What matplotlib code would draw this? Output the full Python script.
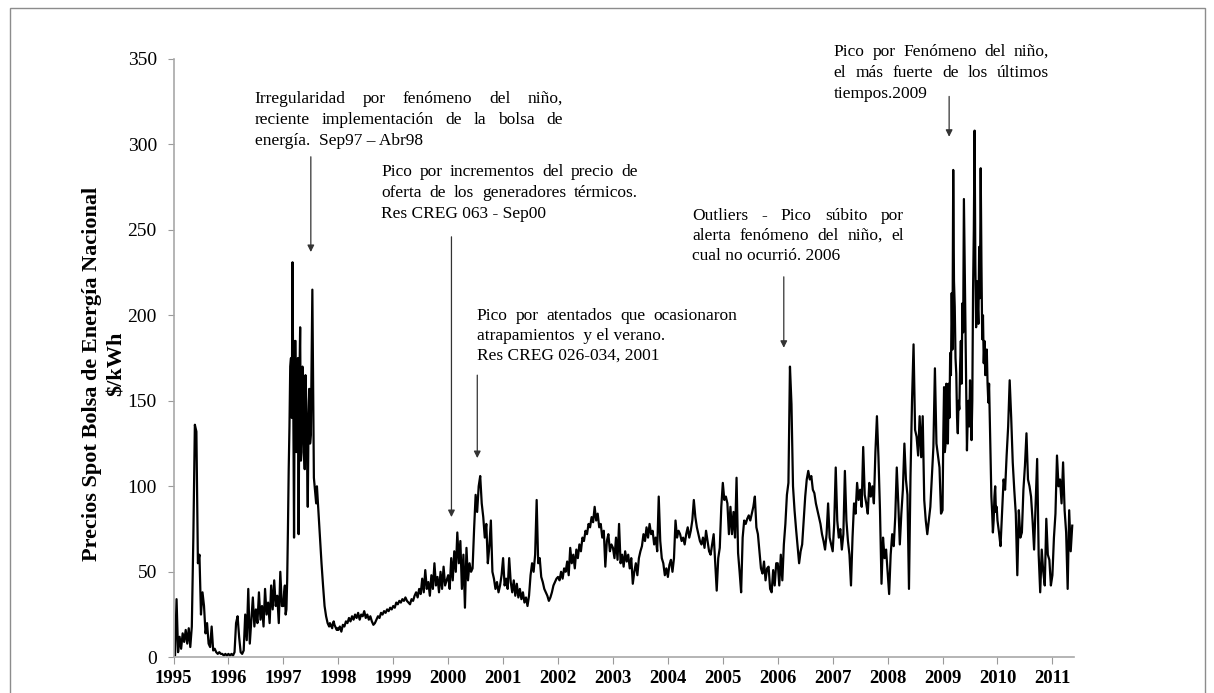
import numpy as np
import matplotlib
matplotlib.use('Agg')
import matplotlib.pyplot as plt
from matplotlib.patches import Rectangle

plt.rcParams['font.family'] = ['Liberation Serif', 'DejaVu Serif']

# Precio spot bolsa ($/kWh); 36 lecturas por año
# (72 en los años mas volatiles)
p1995 = [2, 1, 34, 3, 12, 5, 14, 9, 16, 8, 17, 6, 18, 70, 136, 132, 55, 60,
         25, 38, 30, 14, 20, 8, 6, 18, 4, 5, 3, 2, 3, 2, 2, 1, 2, 1]
p1996 = [2, 1, 2, 1, 3, 20, 24, 12, 3, 2, 4, 25, 10, 40, 8, 22, 35, 18,
         28, 20, 38, 22, 30, 18, 40, 25, 32, 20, 42, 28, 45, 30, 36, 20, 50, 30]
p1997 = [30, 38, 42, 25, 28, 45, 75, 110, 135, 170, 175, 140, 231, 150, 70, 185, 185, 120,
         150, 175, 72, 160, 193, 115, 120, 170, 155, 125, 110, 165, 150, 118, 88, 140, 157, 125,
         130, 175, 215, 160, 105, 100, 95, 90, 100, 92, 85, 78, 70, 62, 55, 48, 42, 36,
         30, 27, 24, 22, 20, 19, 18, 20, 19, 18, 17, 20, 21, 19, 18, 17, 16, 17]
p1998 = [16, 18, 15, 19, 18, 21, 20, 23, 21, 24, 22, 25, 23, 26, 22, 25, 24, 27,
         23, 25, 22, 24, 21, 19, 20, 22, 24, 23, 26, 25, 27, 26, 28, 27, 29, 28]
p1999 = [30, 29, 32, 31, 33, 32, 34, 33, 35, 33, 32, 31, 34, 33, 36, 38, 35, 40,
         37, 46, 38, 51, 40, 44, 36, 48, 40, 55, 42, 47, 38, 50, 40, 53, 42, 45]
p2000 = [48, 40, 58, 45, 62, 50, 73, 55, 68, 40, 60, 29, 64, 45, 55, 50, 52, 75,
         95, 85, 100, 106, 90, 82, 70, 78, 55, 65, 80, 50, 46, 40, 44, 38, 42, 48]
p2001 = [58, 42, 46, 40, 58, 44, 38, 45, 36, 43, 35, 40, 34, 38, 32, 35, 30, 36,
         48, 55, 50, 60, 92, 55, 58, 47, 44, 40, 38, 36, 33, 35, 38, 42, 44, 46]
p2002 = [47, 45, 50, 46, 52, 50, 56, 48, 64, 55, 60, 52, 63, 58, 66, 62, 70, 68,
         74, 72, 78, 76, 82, 79, 88, 80, 84, 76, 78, 70, 74, 53, 68, 72, 62, 66]
p2003 = [64, 58, 70, 57, 78, 55, 60, 53, 62, 56, 60, 52, 58, 43, 50, 55, 48, 58,
         62, 65, 72, 68, 76, 70, 78, 72, 74, 66, 70, 62, 94, 68, 58, 55, 48, 52]
p2004 = [47, 54, 57, 50, 58, 80, 70, 74, 72, 68, 70, 66, 72, 76, 70, 74, 80, 92,
         82, 76, 72, 68, 66, 70, 64, 74, 68, 62, 60, 66, 72, 56, 39, 58, 64, 88]
p2005 = [102, 92, 94, 90, 72, 88, 72, 85, 70, 105, 61, 50, 38, 70, 80, 78, 81, 83,
         80, 84, 88, 94, 76, 72, 62, 52, 49, 56, 45, 52, 53, 40, 38, 51, 42, 55]
p2006 = [55, 42, 60, 45, 66, 78, 95, 102, 170, 148, 100, 86, 75, 65, 55, 62, 66, 80,
         94, 104, 109, 104, 106, 98, 96, 90, 86, 82, 78, 72, 68, 63, 72, 90, 70, 66]
p2007 = [62, 78, 111, 80, 70, 75, 63, 72, 109, 80, 68, 60, 42, 70, 90, 84, 102, 92,
         98, 88, 123, 95, 90, 84, 102, 94, 100, 90, 120, 141, 117, 86, 43, 70, 58, 63]
p2008 = [50, 37, 60, 72, 65, 82, 111, 90, 66, 84, 98, 125, 104, 95, 40, 106, 150, 183,
         133, 129, 118, 141, 117, 141, 92, 80, 72, 80, 88, 105, 123, 169, 125, 118, 111, 84]
p2009 = [86, 130, 158, 120, 125, 160, 150, 125, 160, 140, 178, 165, 213, 180, 285, 220, 205, 175,
         166, 140, 131, 150, 145, 170, 185, 160, 207, 190, 268, 230, 197, 150, 121, 140, 150, 135,
         162, 140, 127, 150, 215, 250, 308, 230, 193, 220, 207, 195, 240, 210, 286, 230, 186, 200,
         172, 185, 165, 175, 180, 160, 149, 160, 139, 120, 94, 85, 73, 80, 94, 100, 85, 88]
p2010 = [80, 73, 65, 85, 104, 98, 118, 135, 162, 140, 114, 98, 84, 48, 86, 70, 73, 98,
         112, 131, 104, 100, 94, 80, 63, 90, 116, 60, 38, 63, 50, 42, 81, 60, 57, 42]
# 2011 solo hasta mayo, a 36 lecturas por año
p2011 = [48, 70, 84, 118, 100, 104, 90, 114, 86, 73, 40, 86, 62, 77]

years = list(range(1995, 2012))
year_values = [p1995, p1996, p1997, p1998, p1999, p2000, p2001, p2002, p2003,
               p2004, p2005, p2006, p2007, p2008, p2009, p2010, p2011]

t_parts = []
for yr, v in zip(years, year_values):
    n = 36 if yr == 2011 else len(v)
    t_parts.append(yr + np.arange(len(v)) / n)
t = np.concatenate(t_parts)
price = np.concatenate([np.array(v, dtype=float) for v in year_values])

notes = [
    ["Irregularidad por fenómeno del niño,",
     "reciente implementación de la bolsa de",
     "energía.  Sep97 – Abr98"],
    ["Pico por incrementos del precio de",
     "oferta de los generadores térmicos.",
     "Res CREG 063 - Sep00"],
    ["Pico por atentados que ocasionaron",
     "atrapamientos  y el verano.",
     "Res CREG 026-034, 2001"],
    ["Outliers  -  Pico súbito por",
     "alerta fenómeno del niño, el",
     "cual no ocurrió. 2006"],
    ["Pico por Fenómeno del niño,",
     "el más fuerte de los últimos",
     "tiempos.2009"],
]

fig = plt.figure(figsize=(12.14, 6.93), dpi=100)
ax = fig.add_axes([173.5 / 1214, 35.7 / 693, 900 / 1214, 598.5 / 693])

ax.plot(t, price, color='black', lw=1.6)

ax.set_xlim(1995, 2011.384)
ax.set_ylim(0, 350)
ax.set_xticks(years)
ax.set_xticklabels([str(y) for y in years], fontsize=13.5, fontweight='bold')
ax.set_yticks(range(0, 351, 50))
ax.set_yticklabels([str(v) for v in range(0, 351, 50)], fontsize=14)
ax.tick_params(axis='y', direction='out', length=4, pad=8, color='#9a9a9a')
ax.tick_params(axis='x', direction='out', length=5, pad=4, color='#9a9a9a')
for side in ['top', 'right']:
    ax.spines[side].set_visible(False)
for side in ['left', 'bottom']:
    ax.spines[side].set_color('#a8a8a8')
    ax.spines[side].set_linewidth(1.2)

# titulo del eje y en dos renglones
ax.text(-0.0906, 0.473, 'Precios Spot Bolsa de Energía Nacional', transform=ax.transAxes,
        rotation=90, ha='center', va='center', fontsize=16, fontweight='bold')
ax.text(-0.0628, 0.49, '$/kWh', transform=ax.transAxes,
        rotation=90, ha='center', va='center', fontsize=16, fontweight='bold')


renderer = fig.canvas.get_renderer()


def justified(line, x0, x1, y):
    words = line.split()
    texts = [ax.text(x0, y, w, ha='left', va='center', fontsize=12.5, clip_on=False)
             for w in words]
    widths = [tx.get_window_extent(renderer).width for tx in texts]
    left_px = ax.transData.transform((x0, y))[0]
    right_px = ax.transData.transform((x1, y))[0]
    gap = (right_px - left_px - sum(widths)) / (len(words) - 1)
    inv = ax.transData.inverted()
    pos = left_px
    for tx, w in zip(texts, widths):
        tx.set_x(inv.transform((pos, 0))[0])
        pos += w + gap


def plain(line, x0, y):
    ax.text(x0, y, line, ha='left', va='center', fontsize=12.5, clip_on=False)


def arrow(x, y_from, y_to):
    ax.annotate('', xy=(x, y_to), xytext=(x, y_from),
                arrowprops=dict(arrowstyle='-|>', color='#333333', lw=0.9,
                                mutation_scale=10, shrinkA=0, shrinkB=0),
                annotation_clip=False)


# (x izq, x der, y de cada renglon, renglones justificados)
layout = [
    (1996.48, 2002.09, [326.7, 314.4, 302.0], 2),
    (1998.78, 2003.46, [284.0, 271.7, 259.4], 2),
    (2000.52, 2005.26, [199.6, 188.0, 176.2], 1),
    (2004.44, 2008.30, [258.2, 246.5, 234.8], 2),
    (2007.02, 2010.94, [354.0, 341.8, 329.6], 2),
]
for lines, (x0, x1, ys, njust) in zip(notes, layout):
    for k, (line, y) in enumerate(zip(lines, ys)):
        if k < njust:
            justified(line, x0, x1, y)
        else:
            plain(line, x0, y)

arrow(1997.50, 292.7, 237.0)
arrow(2000.06, 245.9, 82.0)
arrow(2000.53, 165.0, 116.5)
arrow(2006.11, 222.5, 181.0)
arrow(2009.12, 328.0, 304.4)

fig.patches.append(Rectangle((10 / 1214, -0.01), 1195 / 1214, 1 - 8 / 693 + 0.01,
                             transform=fig.transFigure, fill=False,
                             edgecolor='#8c8c8c', lw=1.0))

fig.savefig('out.png', dpi=100)
